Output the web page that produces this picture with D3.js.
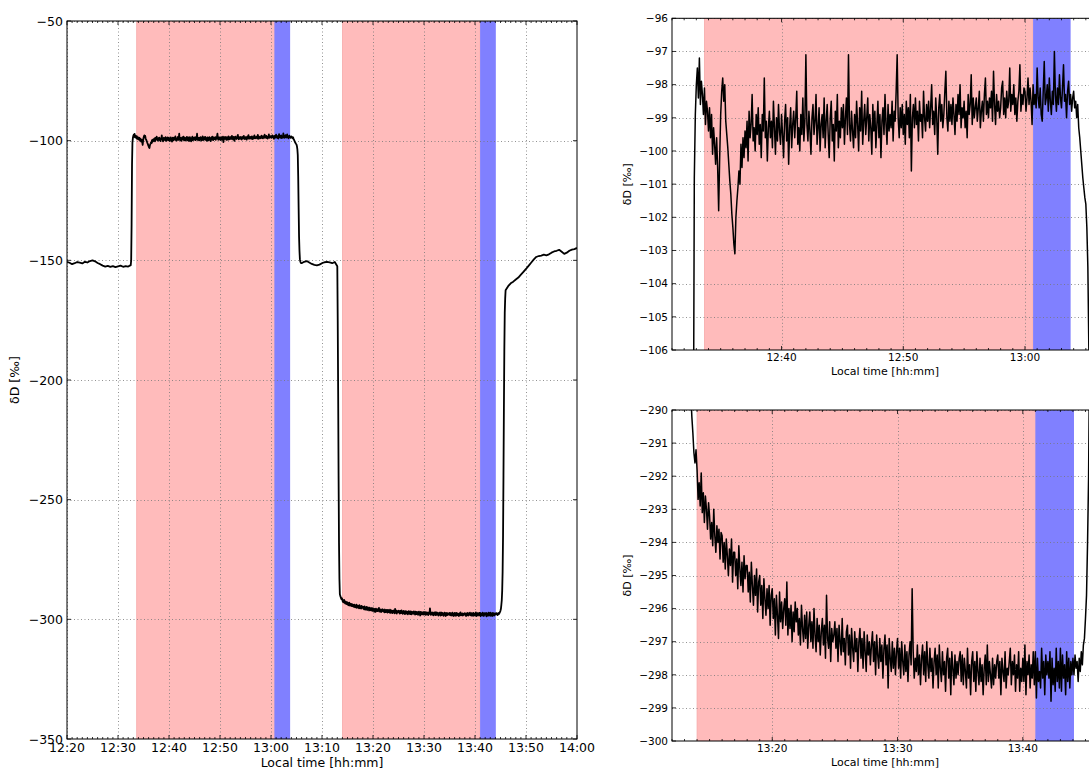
<!DOCTYPE html>
<html><head><meta charset="utf-8">
<script src="https://cdn.jsdelivr.net/npm/d3@7"></script>
<style>
body{margin:0;background:#fff;overflow:hidden}
text{font-family:"DejaVu Sans",sans-serif;fill:#000}
</style>
</head><body>
<svg id="c" width="1089" height="771"></svg>
<script>
// ---------------- DATA ----------------
// Segment before first step, 30 s sampling
const preStart = "12:20:00", preStep = 30;
const preVals = [-150.6,-151.0,-151.6,-151.2,-150.7,-151.0,-151.3,-150.6,-150.9,-150.3,-150.0,-150.4,
  -151.1,-151.6,-152.2,-152.6,-152.3,-152.7,-152.4,-152.8,-152.5,-152.2,-152.7,-152.4,-152.6];

// Detailed record of the first plateau (upper right panel), 5 s sampling
const topStart = "12:32:30", topStep = 5;
const topVals = [
  -152.0,-150.0,-135.0,-110.0,-100.8,-98.9,
  -98.0,-97.5,-98.4,-97.2,-98.6,-97.9,-98.3,-98.9,-98.1,-99.2,-98.5,-98.8,
  -99.4,-98.7,-99.6,-98.9,-100.1,-99.3,-99.8,-100.4,-99.6,-100.5,-101.8,-100.2,
  -98.9,-98.2,-97.8,-98.5,-98.0,-99.1,-99.5,-99.9,-100.4,-100.9,-101.3,-101.9,
  -102.3,-102.8,-103.1,-102.0,-101.5,-101.1,-100.6,-101.0,-99.8,-100.5,-99.6,-100.2,
  -99.4,-99.9,-99.1,-100.3,-98.8,-99.6,-99.2,-98.3,-99.7,-99.3,-100.0,-98.9,
  -99.5,-98.7,-99.8,-99.2,-100.2,-98.9,-99.4,-97.8,-99.6,-99.1,-100.3,-99.3,
  -98.8,-99.6,-99.1,-99.9,-98.5,-99.3,-100.1,-99.0,-99.7,-98.6,-99.4,-99.8,
  -98.9,-99.5,-100.2,-99.1,-98.6,-99.7,-99.0,-100.4,-99.3,-98.7,-99.9,-99.2,
  -98.8,-99.6,-99.0,-98.2,-99.8,-99.3,-100.0,-98.9,-99.5,-98.4,-99.7,-99.1,
  -97.1,-99.2,-99.7,-98.8,-99.4,-100.1,-99.0,-98.6,-99.5,-99.1,-98.3,-99.8,
  -99.3,-98.7,-100.0,-99.2,-98.9,-99.6,-98.4,-99.9,-99.1,-98.6,-99.5,-100.2,
  -99.0,-98.5,-99.7,-99.2,-100.3,-98.8,-99.4,-98.3,-99.9,-99.1,-99.6,-98.7,
  -99.3,-98.6,-99.8,-99.0,-98.4,-99.5,-97.1,-99.2,-99.7,-98.8,-99.4,-99.9,
  -98.9,-99.6,-98.5,-99.2,-100.0,-98.7,-99.4,-98.2,-99.8,-99.1,-98.6,-99.5,
  -99.0,-98.4,-99.7,-98.9,-99.3,-100.1,-98.6,-99.4,-98.8,-99.9,-99.2,-98.5,
  -99.6,-98.9,-100.2,-99.1,-98.7,-99.5,-98.3,-99.2,-99.8,-98.6,-99.4,-98.9,
  -99.3,-98.5,-99.7,-98.8,-99.1,-98.2,-97.1,-99.0,-99.6,-98.7,-99.3,-98.6,
  -99.5,-98.9,-99.8,-98.5,-99.2,-98.7,-99.6,-98.3,-100.6,-99.0,-98.6,-99.3,
  -98.4,-99.2,-98.8,-99.7,-98.5,-99.1,-98.9,-99.6,-98.2,-99.0,-99.4,-98.6,
  -99.1,-98.5,-99.3,-98.7,-98.0,-99.2,-98.8,-99.5,-98.4,-99.0,-100.1,-98.7,
  -98.3,-99.1,-98.6,-99.3,-98.9,-98.2,-97.6,-99.0,-99.4,-98.5,-99.1,-98.6,
  -99.2,-98.4,-98.9,-99.5,-98.6,-99.1,-98.3,-98.9,-98.0,-99.3,-98.7,-99.0,
  -98.5,-99.3,-98.8,-99.6,-98.3,-98.9,-98.6,-97.7,-99.2,-98.4,-99.0,-98.7,
  -98.4,-99.1,-98.7,-98.2,-99.3,-98.8,-98.5,-99.1,-98.3,-97.8,-98.9,-98.5,
  -99.0,-98.4,-98.7,-98.2,-99.1,-97.6,-98.6,-99.2,-98.3,-98.8,-98.5,-99.0,
  -98.7,-98.1,-97.9,-98.9,-98.4,-99.0,-98.2,-98.7,-98.5,-97.5,-98.8,-98.3,
  -98.6,-98.0,-98.9,-98.4,-99.1,-98.5,-98.2,-97.4,-98.8,-98.3,-98.6,-98.1,
  -98.2,-98.8,-98.4,-97.8,-98.6,-98.1,-98.5,-99.2,-98.0,-98.6,-98.3,-98.7,
  -97.5,-98.4,-98.7,-98.1,-98.9,-99.1,-98.2,-97.3,-98.6,-98.4,-98.0,-98.8,
  -97.8,-98.5,-98.9,-98.2,-98.6,-97.0,-98.3,-98.8,-98.1,-98.6,-97.7,-98.4,
  -98.7,-98.1,-97.4,-98.5,-98.3,-99.0,-98.2,-97.9,-98.6,-98.3,-98.8,-98.4,
  -98.2,-98.7,-98.5,-99.0,-98.6,-99.3,-99.6,-100.0,-100.4,-100.8,-101.1,-101.4,
  -101.6,-102.3,-103.5,-106.0,-115.0,-128.0,-140.0,-146.0,-149.5,-150.5,-151.0,-151.2
];

// Segment between the two plateaus, 30 s sampling
const midStart = "13:06:00", midStep = 30;
const midVals = [-151.2,-150.6,-150.3,-150.9,-151.5,-151.9,-152.1,-151.8,-151.2,-150.8,-150.6,-150.9,-151.2,-150.7];

// Detailed record of the second plateau (lower right panel), 5 s sampling
const bottomStart = "13:13:00", bottomStep = 5;
const bottomVals = [
  -152.5,-175.0,-205.0,-240.0,-268.0,-283.0,-289.5,-290.2,-290.7,-291.3,-291.6,-291.2,
  -291.8,-292.7,-292.2,-292.9,-291.9,-293.1,-292.5,-293.4,-292.6,-293.0,-293.6,-292.8,
  -293.2,-293.9,-293.4,-294.1,-293.0,-293.8,-294.3,-293.5,-294.0,-293.6,-294.5,-293.7,
  -293.8,-294.6,-294.0,-294.8,-293.9,-294.4,-295.0,-294.2,-294.7,-293.9,-295.2,-294.3,
  -294.3,-295.0,-294.5,-295.4,-294.1,-294.8,-295.3,-294.6,-295.5,-294.4,-295.1,-294.7,
  -294.7,-295.5,-294.9,-295.8,-294.6,-295.3,-295.9,-295.0,-295.6,-294.8,-296.1,-295.2,
  -295.0,-295.9,-295.3,-296.3,-295.1,-295.7,-296.2,-295.4,-296.0,-295.3,-296.5,-295.6,
  -295.4,-296.3,-295.7,-296.8,-295.6,-296.2,-296.9,-295.5,-296.4,-295.8,-296.6,-296.0,
  -295.7,-296.5,-295.2,-296.8,-296.0,-296.6,-295.9,-297.0,-296.1,-296.7,-295.8,-296.4,
  -296.0,-296.8,-296.3,-297.1,-295.9,-296.6,-297.0,-296.2,-296.9,-296.1,-297.2,-296.5,
  -296.1,-297.0,-296.4,-297.2,-296.0,-296.8,-297.3,-296.3,-297.0,-296.5,-297.4,-296.7,
  -296.3,-297.1,-296.5,-297.5,-295.6,-296.9,-297.2,-296.4,-297.6,-296.6,-297.0,-296.8,
  -296.4,-297.2,-296.6,-297.6,-296.5,-297.0,-297.4,-296.3,-297.3,-296.9,-297.7,-296.7,
  -296.5,-297.4,-296.8,-297.8,-296.6,-297.2,-297.6,-296.7,-297.3,-296.9,-297.9,-297.0,
  -296.6,-297.5,-296.9,-297.8,-296.7,-297.3,-297.9,-296.8,-297.4,-297.0,-297.7,-297.1,
  -296.7,-297.6,-297.0,-298.0,-296.8,-297.4,-297.8,-296.9,-297.6,-297.1,-298.1,-297.2,
  -296.8,-297.7,-297.1,-298.4,-296.9,-297.5,-297.9,-297.0,-297.8,-297.2,-298.0,-297.3,
  -296.9,-297.8,-297.2,-298.1,-297.0,-297.6,-298.0,-297.1,-297.9,-297.3,-298.2,-297.4,
  -297.0,-297.7,-295.4,-297.3,-298.1,-297.5,-297.9,-297.1,-298.0,-297.4,-298.3,-297.5,
  -297.1,-298.0,-297.3,-298.2,-297.0,-297.7,-298.1,-297.2,-297.9,-297.5,-298.4,-297.6,
  -297.2,-298.0,-297.4,-298.4,-297.1,-297.8,-298.2,-297.3,-298.0,-297.6,-298.5,-297.5,
  -297.2,-298.1,-297.5,-298.6,-297.3,-297.8,-298.3,-297.4,-298.1,-297.6,-298.0,-297.5,
  -297.3,-298.2,-297.4,-298.3,-297.5,-297.9,-298.4,-297.2,-298.1,-297.7,-298.6,-297.6,
  -297.3,-298.2,-297.6,-298.5,-297.3,-297.9,-298.3,-297.5,-298.2,-297.7,-298.6,-297.8,
  -297.4,-298.3,-297.1,-298.2,-297.6,-298.0,-298.4,-297.5,-298.3,-297.7,-298.1,-297.6,
  -297.4,-298.1,-297.6,-298.6,-297.5,-297.9,-298.2,-297.3,-298.4,-297.8,-298.0,-297.6,
  -297.2,-298.3,-297.6,-298.0,-297.4,-298.5,-297.7,-298.1,-297.3,-298.5,-297.8,-298.2,
  -297.5,-298.2,-297.1,-298.6,-297.6,-298.0,-297.4,-298.4,-297.7,-298.1,-297.3,-298.3,
  -297.3,-298.7,-297.5,-298.2,-297.9,-298.4,-297.2,-298.1,-297.6,-298.6,-297.4,-298.0,
  -297.6,-298.1,-297.3,-298.8,-297.5,-298.3,-297.8,-298.5,-297.2,-298.2,-297.6,-298.4,
  -297.2,-298.5,-297.4,-298.1,-297.7,-298.6,-297.3,-298.2,-297.5,-298.4,-297.6,-298.0,
  -297.5,-298.0,-297.4,-297.8,-297.6,-298.2,-297.5,-297.9,-297.3,-297.7,-297.1,-296.9,
  -296.3,-295.6,-294.0,-292.0,-288.0,-280.0,-265.0,-240.0,-212.0,-188.0,-172.0,-166.0
];

// Segment after the second plateau, 30 s sampling
const postStart = "13:46:00", postStep = 30;
const postVals = [-162.5,-160.8,-159.6,-158.9,-158.0,-157.2,-156.0,-154.8,-153.6,-152.3,-151.0,-149.7,
  -148.6,-148.2,-148.0,-147.6,-147.9,-147.5,-146.8,-146.3,-146.0,-145.6,-146.4,-147.3,-146.8,-146.0,-145.5,-145.3,-144.8];

// Shaded periods
const pinkBands = [["12:33:40","13:00:40"],["13:14:00","13:41:00"]];
const blueBands = [["13:00:40","13:03:45"],["13:41:00","13:44:05"]];

// Axis domains and ticks
const mainXDomain = ["12:20:00","14:00:00"];
const topXDomain = ["12:31:00","13:06:00"];
const bottomXDomain = ["13:12:00","13:46:00"];
const mainYTicks = [-50,-100,-150,-200,-250,-300,-350];
const topYTicks = [-96,-97,-98,-99,-100,-101,-102,-103,-104,-105,-106];
const bottomYTicks = [-290,-291,-292,-293,-294,-295,-296,-297,-298,-299,-300];
const xLabel = "Local time [hh:mm]";
const yLabel = "δD [‰]";

// ---------------- HELPERS ----------------
const parseT = s => { const p = s.split(":").map(Number); return new Date(2000,0,1,p[0],p[1],p[2]||0); };
const series = (start, step, vals) => { const t0 = parseT(start).getTime(); return vals.map((v,i)=>({t:new Date(t0+i*step*1000), v})); };

const preData = series(preStart, preStep, preVals);
const topData = series(topStart, topStep, topVals);
const midData = series(midStart, midStep, midVals);
const bottomData = series(bottomStart, bottomStep, bottomVals);
const postData = series(postStart, postStep, postVals);
const allData = [].concat(preData, topData, midData, bottomData, postData);

const svg = d3.select("#c");
const fmt = d3.timeFormat("%H:%M");
const yfmt = d3.format("d");

function panel(id, cfg){
  const {x0,x1,y0,y1,xDom,yDom,yTicks,data,fs,lw,xpad,xlabY,ylabX,labFs} = cfg;
  const xs = d3.scaleTime().domain(xDom.map(parseT)).range([x0,x1]);
  const ys = d3.scaleLinear().domain(yDom).range([y1,y0]);
  const g = svg.append("g");
  g.append("clipPath").attr("id","clip"+id).append("rect")
    .attr("x",x0).attr("y",y0).attr("width",x1-x0).attr("height",y1-y0);
  const c = g.append("g").attr("clip-path",`url(#clip${id})`);
  c.selectAll("rect.pink").data(pinkBands).join("rect")
    .attr("x",d=>xs(parseT(d[0]))).attr("width",d=>xs(parseT(d[1]))-xs(parseT(d[0])))
    .attr("y",y0).attr("height",y1-y0).attr("fill","#ffbbbb").attr("stroke","#f7aaaa").attr("stroke-width",0.8);
  c.selectAll("rect.blue").data(blueBands).join("rect")
    .attr("x",d=>xs(parseT(d[0]))).attr("width",d=>xs(parseT(d[1]))-xs(parseT(d[0])))
    .attr("y",y0).attr("height",y1-y0).attr("fill","#8080ff");
  const xt = xs.ticks(d3.timeMinute.every(10));
  const xm = xs.ticks(d3.timeMinute.every(1));
  // grid
  c.selectAll("line.gx").data(xt).join("line")
    .attr("x1",d=>Math.round(xs(d))+0.5).attr("x2",d=>Math.round(xs(d))+0.5).attr("y1",y0).attr("y2",y1)
    .attr("stroke","#777").attr("stroke-width",0.8).attr("stroke-dasharray","1,2.5");
  c.selectAll("line.gy").data(yTicks).join("line")
    .attr("y1",d=>Math.round(ys(d))+0.5).attr("y2",d=>Math.round(ys(d))+0.5).attr("x1",x0).attr("x2",x1)
    .attr("stroke","#777").attr("stroke-width",0.8).attr("stroke-dasharray","1,2.5");
  // line
  c.append("path").datum(data)
    .attr("d", d3.line().x(d=>xs(d.t)).y(d=>ys(d.v)))
    .attr("fill","none").attr("stroke","#000").attr("stroke-width",lw).attr("stroke-linejoin","round");
  // frame
  g.append("rect").attr("x",x0).attr("y",y0).attr("width",x1-x0).attr("height",y1-y0)
    .attr("fill","none").attr("stroke","#000").attr("stroke-width",1);
  // ticks (inward)
  const tk = g.append("g").attr("stroke","#000").attr("stroke-width",0.8);
  xm.forEach(d=>{ const x=xs(d); const major = xt.some(t=>+t===+d); const L = major?4:2;
    tk.append("line").attr("x1",x).attr("x2",x).attr("y1",y1).attr("y2",y1-L);
    tk.append("line").attr("x1",x).attr("x2",x).attr("y1",y0).attr("y2",y0+L); });
  yTicks.forEach(v=>{ const y=ys(v);
    tk.append("line").attr("x1",x0).attr("x2",x0+4).attr("y1",y).attr("y2",y);
    tk.append("line").attr("x1",x1).attr("x2",x1-4).attr("y1",y).attr("y2",y); });
  // tick labels
  g.selectAll("text.xt").data(xt).join("text")
    .attr("x",d=>xs(d)).attr("y",y1+xpad).attr("dy","0.76em").attr("text-anchor","middle")
    .attr("font-size",fs).text(d=>fmt(d));
  g.selectAll("text.yt").data(yTicks).join("text")
    .attr("x",x0-4).attr("y",d=>ys(d)).attr("dy","0.36em").attr("text-anchor","end")
    .attr("font-size",fs).text(d=>yfmt(d));
  // axis labels
  g.append("text").attr("x",(x0+x1)/2).attr("y",xlabY).attr("text-anchor","middle")
    .attr("font-size",labFs).text(xLabel);
  g.append("text").attr("transform",`translate(${ylabX},${(y0+y1)/2}) rotate(-90)`)
    .attr("text-anchor","middle").attr("font-size",labFs).text(yLabel);
}

panel("m",{x0:67,x1:577,y0:21,y1:739,xDom:mainXDomain,yDom:[-350,-50],yTicks:mainYTicks,
  data:allData,fs:12.5,lw:1.8,xpad:3,xlabY:767,ylabX:19,labFs:12.5});
panel("t",{x0:672,x1:1098,y0:18.3,y1:350,xDom:topXDomain,yDom:[-106,-96],yTicks:topYTicks,
  data:topData,fs:10.5,lw:1.5,xpad:3,xlabY:374.5,ylabX:631,labFs:11});
panel("b",{x0:672,x1:1098,y0:410,y1:741,xDom:bottomXDomain,yDom:[-300,-290],yTicks:bottomYTicks,
  data:bottomData,fs:10.5,lw:1.5,xpad:3,xlabY:766,ylabX:631,labFs:11});
</script>
</body></html>
